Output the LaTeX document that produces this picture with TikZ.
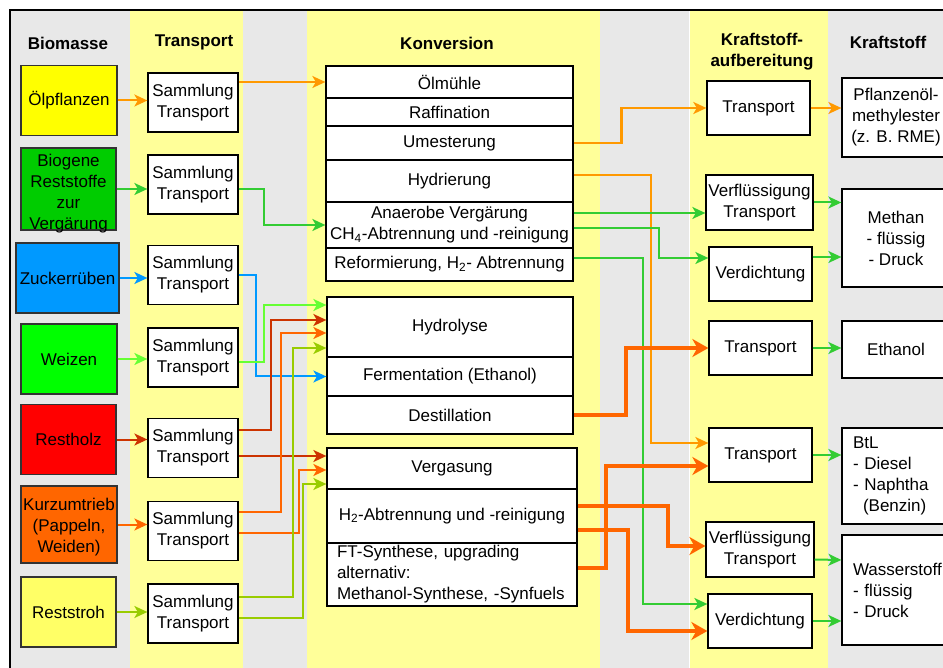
\documentclass[tikz,border=0pt]{standalone}
\usepackage{fontspec}
\setmainfont{Liberation Sans}
\usetikzlibrary{arrows.meta}
\definecolor{colgray}{HTML}{E8E8E8}
\definecolor{colyellow}{HTML}{FFFF99}
\definecolor{cOrangeL}{HTML}{FF9900}
\definecolor{cGreen}{HTML}{33CC33}
\definecolor{cBlue}{HTML}{0099FF}
\definecolor{cLime}{HTML}{66FF33}
\definecolor{cRed}{HTML}{CC3300}
\definecolor{cOrange}{HTML}{FF6600}
\definecolor{cOlive}{HTML}{99CC00}
\definecolor{bOelC}{HTML}{FFFF00}
\definecolor{bBioC}{HTML}{00CC00}
\definecolor{bZuckC}{HTML}{0099FF}
\definecolor{bWeizC}{HTML}{00FF00}
\definecolor{bHolzC}{HTML}{FF0000}
\definecolor{bKurzC}{HTML}{FF6600}
\definecolor{bStrohC}{HTML}{FFFF66}
\begin{document}
\begin{tikzpicture}[
				x=1pt, y=-1pt,
				font=\fontsize{17}{21}\selectfont,
				head/.style={
						font=\fontsize{17}{21}\selectfont\bfseries,
						align=center,
					},
				bio/.style={
						draw=black!80,
						line width=1.3pt,
						fill=#1,
						minimum width=96pt,
						minimum height=70pt,
						inner sep=0pt,
						align=center,
					},
				tbox/.style={
						draw,
						fill=white,
						line width=1.3pt,
						minimum width=90pt,
						minimum height=59pt,
						inner sep=0pt,
						align=center,
					},
				conv/.style={
						draw,
						fill=white,
						line width=1.3pt,
						minimum width=247pt,
						inner sep=0pt,
						align=center,
					},
				auf/.style={
						draw,
						fill=white,
						line width=1.3pt,
						minimum width=103pt,
						minimum height=54pt,
						inner sep=0pt,
						align=center,
					},
				fuel/.style={
						draw,
						fill=white,
						line width=1.3pt,
						minimum width=108pt,
						inner sep=0pt,
						align=center,
					},
				line/.style={
						line width=2pt,
						-{Stealth[length=13pt, width=12pt, inset=3.5pt]},
					},
				heavy/.style={
						line width=4pt,
						-{Stealth[length=16pt, width=18pt, inset=5pt]},
					},
			]

			\useasboundingbox (0,0) rectangle (943,668);
			\clip (0,0) rectangle (943,668);
			\fill[white] (0,0) rectangle (943,668);
			\fill[colgray] (10,10) rectangle (130,668);
			\fill[colyellow] (130,10) rectangle (243,668);
			\fill[colgray] (243,10) rectangle (307,668);
			\fill[colyellow] (307,10) rectangle (600,668);
			\fill[colgray] (600,10) rectangle (689,668);
			\fill[colyellow] (689,10) rectangle (828,668);
			\fill[colgray] (828,10) rectangle (943,668);
			\draw[white, line width=1pt] (689.5,10) -- (689.5,668);
			\draw[line width=1.3pt] (10,668) -- (10,10) -- (943,10);

			\node[head] (hBio) at (68,43) {Biomasse};
			\node[head] (hTra) at (194,42) {Transport};
			\node[head] (hKon) at (447,43) {Konversion};
			\node[head] (hAuf) at (762,52) {Kraftstoff-\\aufbereitung};
			\node[head] (hKra) at (888,42) {Kraftstoff};

			\node[bio=bOelC] (oelpfl) at (69,100.5) {Ölpflanzen};
			\node[bio=bBioC, minimum width=95pt, minimum height=82pt, inner ysep=-4pt] (biogen) at (68.5,189) {\rule{0pt}{22pt}Biogene\\Reststoffe\\zur\\Vergärung};
			\node[bio=bZuckC, minimum width=103pt] (zucker) at (67.5,278) {Zuckerrüben};
			\node[bio=bWeizC] (weizen) at (69,359) {Weizen};
			\node[bio=bHolzC, minimum width=95pt] (restholz) at (68.5,439.5) {Restholz};
			\node[bio=bKurzC, minimum height=77pt] (kurz) at (69,524.5) {\rule{0pt}{17pt}Kurzumtrieb\\(Pappeln,\\Weiden)};
			\node[bio=bStrohC, minimum width=95pt] (stroh) at (68.5,612) {Reststroh};

			\node[tbox] (t1) at (193,102.5) {Sammlung\\Transport};
			\node[tbox] (t2) at (193,184.5) {Sammlung\\Transport};
			\node[tbox] (t3) at (193,275) {Sammlung\\Transport};
			\node[tbox] (t4) at (193,357.5) {Sammlung\\Transport};
			\node[tbox] (t5) at (193,448) {Sammlung\\Transport};
			\node[tbox] (t6) at (193,531) {Sammlung\\Transport};
			\node[tbox] (t7) at (193,613.5) {Sammlung\\Transport};

			\node[conv, minimum height=32pt] (oelmuehle) at (449.5,82) {Ölmühle};
			\node[conv, minimum height=28pt] (raff) at (449.5,112) {Raffination};
			\node[conv, minimum height=34pt] (umest) at (449.5,143) {Umesterung};
			\node[conv, minimum height=42pt] (hydrier) at (449.5,181) {Hydrierung};
			\node[conv, minimum height=46pt] (anaerob) at (449.5,225) {Anaerobe Vergärung\\CH\textsubscript{4}-Abtrennung und -reinigung};
			\node[conv, minimum height=33pt] (reform) at (449.5,264.5) {Reformierung, H\textsubscript{2}- Abtrennung};

			\node[conv, minimum width=246pt, minimum height=60pt] (hydrolyse) at (450,327) {Hydrolyse};
			\node[conv, minimum width=246pt, minimum height=39pt] (ferment) at (450,376.5) {Fermentation (Ethanol)};
			\node[conv, minimum width=246pt, minimum height=38pt] (destill) at (450,415) {Destillation};

			\node[conv, minimum width=250pt, minimum height=41pt] (vergas) at (452,468.5) {Vergasung};
			\node[conv, minimum width=250pt, minimum height=54pt] (htwo) at (452,516) {H\textsubscript{2}-Abtrennung und -reinigung};
			\node[conv, text width=230pt, align=left, inner xsep=10pt, minimum height=63pt] (ftsyn) at (452,574.5) {FT-Synthese, upgrading\\alternativ:\\Methanol-Synthese, -Synfuels};

			\node[auf] (a1) at (758.5,108) {Transport};
			\node[auf, minimum width=107pt, minimum height=55pt] (a2) at (759.5,202.5) {Verflüssigung\\Transport};
			\node[auf] (a3) at (760.5,274) {Verdichtung};
			\node[auf] (a4) at (760.5,348) {Transport};
			\node[auf] (a5) at (760.5,455) {Transport};
			\node[auf, minimum width=108pt, minimum height=55pt] (a6) at (760,549.5) {Verflüssigung\\Transport};
			\node[auf, minimum width=104pt] (a7) at (760,621) {Verdichtung};

			\node[fuel, minimum height=79pt] (k1) at (896,117.5) {Pflanzenöl-\\methylester\\(z. B. RME)};
			\node[fuel, minimum height=98pt] (k2) at (896,238) {Methan\\- flüssig\\- Druck};
			\node[fuel, minimum height=57pt] (k3) at (896,349.5) {Ethanol};
			\node[fuel, minimum height=96pt, text width=90pt, align=left, inner xsep=11pt] (k4) at (898,476) {BtL\\- Diesel\\- Naphtha\\\hspace*{10pt}(Benzin)};
			\node[fuel, minimum height=110pt, text width=90pt, align=left, inner xsep=11pt] (k5) at (898,590) {Wasserstoff\\- flüssig\\- Druck};

			\draw[line, cOrangeL] (oelpfl.east) -- (oelpfl.east -| t1.west);
			\draw[line, cGreen] (biogen.east) -- (biogen.east -| t2.west);
			\draw[line, cBlue] (zucker.east) -- (zucker.east -| t3.west);
			\draw[line, cLime] (weizen.east) -- (weizen.east -| t4.west);
			\draw[line, cRed] (restholz.east) -- (restholz.east -| t5.west);
			\draw[line, cOrange] (kurz.east) -- (kurz.east -| t6.west);
			\draw[line, cOlive] (stroh.east) -- (stroh.east -| t7.west);

			\draw[line, cOrangeL] (t1.east |- oelmuehle.west) -- (oelmuehle.west);
			\draw[line, cGreen] ([shift={(0,5)}]t2.east) -- ++(25,0) |- (anaerob.west);
			\draw[line, cBlue] (t3.east) -- ++(17,0) |- (ferment.west);
			\draw[line, cLime] ([shift={(0,4.5)}]t4.east) -- ++(25,0) |- ([shift={(0,-22)}]hydrolyse.west);
			\draw[line, cRed] ([shift={(0,-18)}]t5.east) -- ++(32,0) |- ([shift={(0,-7)}]hydrolyse.west);
			\draw[line, cRed] ([shift={(0,8)}]t5.east) -- ([shift={(0,-12.5)}]vergas.west);
			\draw[line, cOrange] ([shift={(0,-19)}]t6.east) -- ++(42,0) |- ([shift={(0,6)}]hydrolyse.west);
			\draw[line, cOrange] ([shift={(0,2)}]t6.east) -- ++(60,0) |- ([shift={(0,1.5)}]vergas.west);
			\draw[line, cOlive] ([shift={(0,-16.5)}]t7.east) -- ++(54,0) |- ([shift={(0,21)}]hydrolyse.west);
			\draw[line, cOlive] ([shift={(0,4.5)}]t7.east) -- ++(64,0) |- ([shift={(0,15.5)}]vergas.west);

			\draw[line, cOrangeL, line width=2.7pt] (umest.east) -- ++(48,0) |- (a1.west);
			\draw[line, cOrangeL] ([shift={(0,-6)}]hydrier.east) -- ++(77,0) |- ([shift={(0,-12)}]a5.west);
			\draw[line, cGreen] ([shift={(0,-12)}]anaerob.east) -- ([shift={(0,10.5)}]a2.west);
			\draw[line, cGreen] ([shift={(0,3)}]anaerob.east) -- ++(85,0) |- ([shift={(0,-16)}]a3.west);
			\draw[line, cGreen] ([shift={(0,-6.5)}]reform.east) -- ++(69,0) |- ([shift={(0,-17)}]a7.west);
			\draw[heavy, cOrange] (destill.east) -- ++(52,0) |- (a4.west);
			\draw[heavy, cOrange] ([shift={(0,-10)}]htwo.east) -- ++(90,0) |- ([shift={(0,-3.5)}]a6.west);
			\draw[heavy, cOrange] ([shift={(0,14)}]htwo.east) -- ++(50,0) |- ([shift={(0,10)}]a7.west);
			\draw[heavy, cOrange] ([shift={(0,-6.5)}]ftsyn.east) -- ++(28,0) |- ([shift={(0,11)}]a5.west);

			\draw[line, cOrangeL] (a1.east) -- (a1.east -| k1.west);
			\draw[line, cGreen] (a2.east) -- (a2.east -| k2.west);
			\draw[line, cGreen] ([shift={(0,-17)}]a3.east) -- ([shift={(0,19)}]k2.west);
			\draw[line, cGreen] (a4.east) -- (a4.east -| k3.west);
			\draw[line, cGreen] (a5.east) -- (a5.east -| k4.west);
			\draw[line, cGreen] ([shift={(0,10)}]a6.east) -- ([shift={(0,-30)}]k5.west);
			\draw[line, cGreen] (a7.east) -- (a7.east -| k5.west);
		\end{tikzpicture}
\end{document}
